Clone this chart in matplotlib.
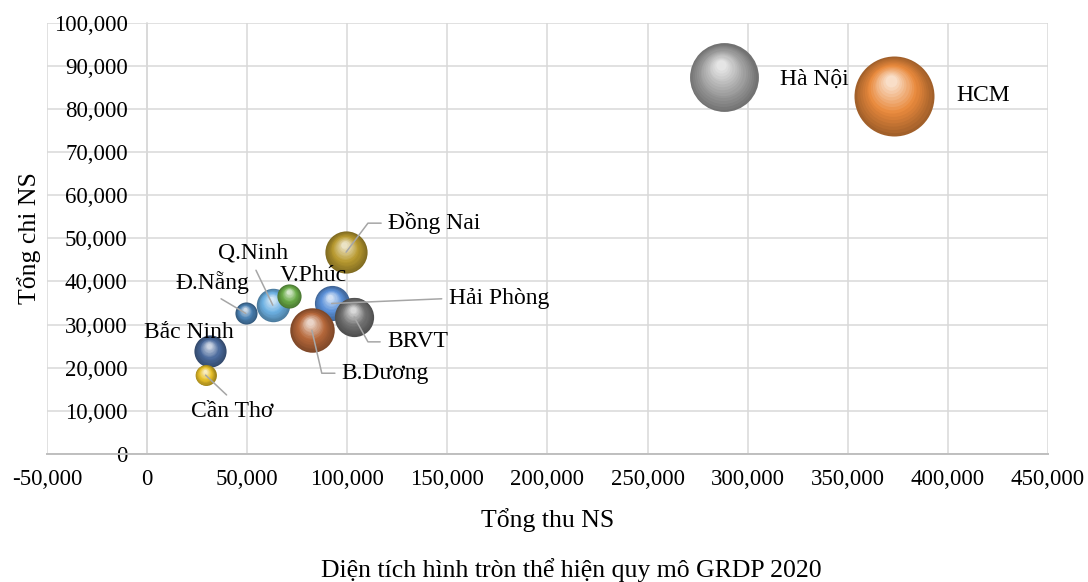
import numpy as np
import matplotlib.pyplot as plt

from matplotlib.colors import to_rgb
from matplotlib.ticker import FuncFormatter, MultipleLocator
from matplotlib.transforms import offset_copy

# -------------------------------------------------------
# Dữ liệu
# -------------------------------------------------------

TINH = ["Hà Nội", "HCM", "Đồng Nai", "Hải Phòng", "BRVT", "B.Dương",
        "Q.Ninh", "Đ.Nẵng", "V.Phúc", "Bắc Ninh", "Cần Thơ"]

TONG_THU = [288000, 373000, 99400, 92200, 103400, 82300,
            62800, 49300, 71100, 31500, 29200]

TONG_CHI = [87300, 83100, 46800, 34900, 31800, 28700,
            34500, 32600, 36600, 23800, 18300]

GRDP = [1016, 1372, 382, 265, 330, 424, 240, 105, 125, 222, 94]

# -------------------------------------------------------
# Kiểu vẽ
# -------------------------------------------------------

MAU = ["#a3a3a3", "#e8893c", "#b89a30", "#5b91d9", "#727272", "#b5673a",
       "#6cb0e2", "#4a80b2", "#6aab48", "#4a6a9c", "#e9c12a"]

# dx, dy (px, tâm nhãn so với tâm bóng), ha, relpos đường dẫn, góc gấp
NHAN = {
    "Hà Nội": (56, -2, "left", None, None),
    "HCM": (63, 0, "left", None, None),
    "Đồng Nai": (42, 29, "left", (0, 0.5), 53),
    "Hải Phòng": (117, 5, "left", (0, 0.5), None),
    "BRVT": (33, -25, "left", (0, 0.5), -61),
    "B.Dương": (30, -43, "left", (0, 0.5), -77),
    "Q.Ninh": (-20, 52, "center", (0.5, 0), None),
    "Đ.Nẵng": (-33, 31, "center", (0.5, 0), None),
    "V.Phúc": (24, 21, "center", None, None),
    "Bắc Ninh": (-21, 19, "center", None, None),
    "Cần Thơ": (27, -36, "center", (0.5, 1), None),
}

PX = 0.72          # điểm trên mỗi pixel (dpi 100)
K_BAN_KINH = 0.7775  # bán kính (pt) = K * sqrt(GRDP)

plt.rcParams["font.family"] = ["Liberation Serif", "DejaVu Serif"]


def ve_qua_cau(ax, x, y, r, mau, z):
    base = np.array(to_rgb(mau))
    toi = base * 0.70
    sang = base + (1 - base) * 0.72
    n = 16
    for i in range(n):
        t = i / (n - 1)
        rr = r * (1 - 0.85 * t)
        tr = offset_copy(ax.transData, fig=ax.figure,
                         x=-0.08 * r * t, y=0.36 * r * t, units="points")
        if t < 0.45:
            c = toi + (base - toi) * (t / 0.45)
        else:
            c = base + (sang - base) * ((t - 0.45) / 0.55)
        ax.scatter([x], [y], s=(2 * rr) ** 2, color=np.clip(c, 0, 1),
                   linewidths=0, transform=tr, zorder=z + i * 0.01)


fig = plt.figure(figsize=(10.88, 5.82), dpi=100)
ax = fig.add_axes([0.0432, 0.2199, 0.9200, 0.7411])

ax.set_xlim(-50000, 450000)
ax.set_ylim(0, 100000)
ax.xaxis.set_major_locator(MultipleLocator(50000))
ax.yaxis.set_major_locator(MultipleLocator(10000))
fmt = FuncFormatter(lambda v, p: f"{v:,.0f}")
ax.xaxis.set_major_formatter(fmt)
ax.yaxis.set_major_formatter(fmt)

ax.grid(True, color="#d9d9d9", linewidth=1.1)
ax.set_axisbelow(True)
for s in ["top", "right"]:
    ax.spines[s].set_visible(False)
ax.spines["left"].set_position(("data", 0))
ax.spines["left"].set_color("#d9d9d9")
ax.spines["left"].set_linewidth(1.1)
ax.spines["bottom"].set_color("#bfbfbf")
ax.spines["bottom"].set_linewidth(1.4)
ax.tick_params(length=0, labelsize=16.5)
ax.tick_params(axis="y", pad=14)
ax.tick_params(axis="x", pad=11)

# bong bong
for i, ten in enumerate(TINH):
    r = K_BAN_KINH * np.sqrt(GRDP[i])
    ve_qua_cau(ax, TONG_THU[i], TONG_CHI[i], r, MAU[i], 3 + i)

# nhan
for i, ten in enumerate(TINH):
    dx, dy, ha, relpos, goc = NHAN[ten]
    props = None
    if relpos is not None:
        props = dict(arrowstyle="-", color="#a6a6a6", lw=1.1,
                     shrinkA=3, shrinkB=0, relpos=relpos)
        if goc is not None:
            props["connectionstyle"] = f"angle,angleA=0,angleB={goc},rad=0"
    ax.annotate(ten, xy=(TONG_THU[i], TONG_CHI[i]),
                xytext=(dx * PX, dy * PX), textcoords="offset points",
                ha=ha, va="center", fontsize=17, zorder=30,
                arrowprops=props)

ax.set_xlabel("Tổng thu NS", fontsize=18.5, va="baseline")
ax.xaxis.set_label_coords(0.5, -0.169)
ax.set_ylabel("Tổng chi NS", fontsize=18.5, va="center")
ax.yaxis.set_label_coords(-0.0175, 0.5)

fig.text(571 / 1088, 1 - 577 / 582, "Diện tích hình tròn thể hiện quy mô GRDP 2020",
         ha="center", va="baseline", fontsize=18.5)

fig.savefig("out.png", dpi=100)
